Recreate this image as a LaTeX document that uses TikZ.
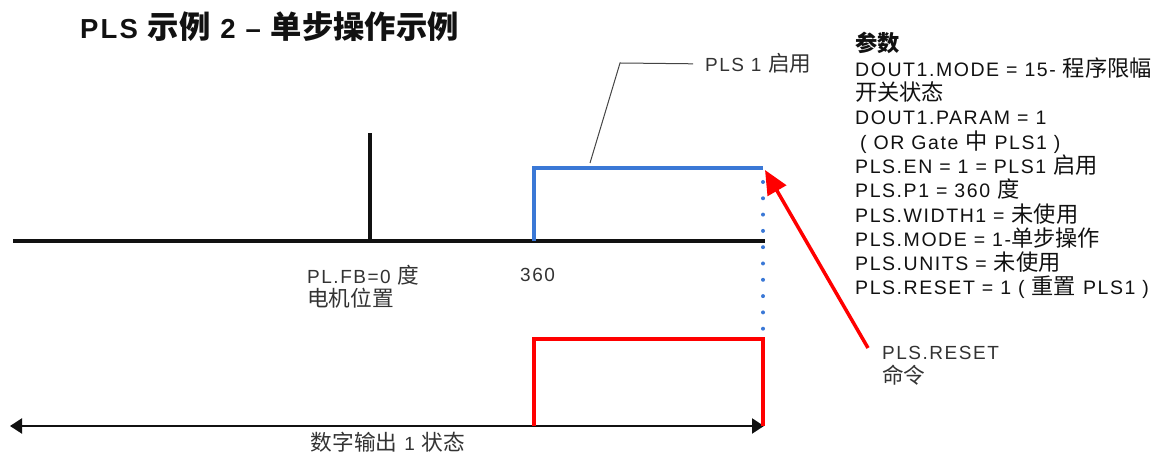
\documentclass[tikz,border=0pt]{standalone}
\usepackage{fontspec}
\setmainfont{Liberation Sans}[LetterSpace=8]
\newfontfamily\zhfont[Scale=1.14]{Noto Sans CJK SC}
\newcommand\zh[1]{{\zhfont #1}}
\usepackage{xcolor}
\usepackage{tikz}
\usetikzlibrary{arrows.meta}
\definecolor{PlsInk}{HTML}{111111}
\definecolor{PlsMuted}{HTML}{333333}
\definecolor{PlsLeader}{HTML}{444444}
\definecolor{PlsBlue}{HTML}{3A78D6}
\definecolor{PlsRed}{HTML}{FF0000}

\begin{document}
\begin{tikzpicture}[x=1pt,y=1pt,
    axisline/.style={line width=3.5pt, PlsInk},
    enline/.style={line width=3.5pt, PlsBlue},
    dotline/.style={line width=4pt, PlsBlue, line cap=round, dash pattern=on 0pt off 16.3pt},
    outpulse/.style={line width=3.5pt, PlsRed},
    statearrow/.style={line width=2.2pt, PlsInk, {Triangle[length=12pt,width=15pt]}-{Triangle[length=12pt,width=15pt]}},
    resetarrow/.style={line width=3.5pt, PlsRed, -{Triangle[length=24pt,width=21pt]}},
    leader/.style={line width=1pt, PlsLeader},
    titletext/.style={text=PlsInk, font=\fontsize{27.5pt}{32pt}\selectfont\bfseries, inner sep=0pt},
    bodytext/.style={text=PlsInk, font=\fontsize{19.5pt}{24.3pt}\selectfont, inner sep=0pt},
    notetext/.style={text=PlsMuted, font=\fontsize{19pt}{24pt}\selectfont, inner sep=0pt},
  ]
        \useasboundingbox (0,0) rectangle (1164,454);
        \node[titletext, anchor=west] (title) at (80,427) {PLS \zh{示例} 2 – \zh{单步操作示例}};
        \foreach \i/\txt in {0/{\textbf{\zh{参数}}},
                             1/{DOUT1.MODE = 15- \zh{程序限幅}},
                             2/{\zh{开关状态}},
                             3/{DOUT1.PARAM = 1},
                             4/{\hspace{5pt}( OR Gate \zh{中} PLS1 )},
                             5/{PLS.EN = 1 = PLS1 \zh{启用}},
                             6/{PLS.P1 = 360 \zh{度}},
                             7/{PLS.WIDTH1 = \zh{未使用}},
                             8/{PLS.MODE = 1-\zh{单步操作}},
                             9/{PLS.UNITS = \zh{未使用}},
                             10/{PLS.RESET = 1 ( \zh{重置} PLS1 )}} {
          \node[bodytext, anchor=base west] (par\i) at (855,{402-24.3*\i}) {\txt};
        }
        \coordinate (axL) at (13,213);
        \coordinate (axR) at (765,213);
        \coordinate (zeroBot) at (370,213);
        \coordinate (zeroTop) at (370,321);
        \draw[axisline] (axL) -- (axR);
        \draw[axisline] (zeroBot) -- (zeroTop);
        \coordinate (enL) at (534,213);
        \coordinate (enLT) at (534,286);
        \coordinate (enRT) at (763,286);
        \coordinate (outL) at (534,28);
        \coordinate (outLT) at (534,115);
        \coordinate (outRT) at (763,115);
        \coordinate (outR) at (763,28);
        \draw[enline] (enL) -- (enLT) -- (enRT);
        \draw[dotline, shorten <=14pt, shorten >=10pt] (enRT) -- (outRT);
        \coordinate (stL) at (10,28);
        \coordinate (stR) at (764,28);
        \draw[statearrow] (stL) -- (stR);
        \draw[outpulse] (outL) -- (outLT) -- (outRT) -- (outR);
        \node[notetext, anchor=base west] (fb) at (307,170) {PL.FB=0 \zh{度}};
        \node[notetext, anchor=base west] (fbpos) at (307,147) {\zh{电机位置}};
        \node[notetext, anchor=base west] (deg) at (520,172) {360};
        \node[notetext, anchor=base west] (en) at (705,382) {PLS 1 \zh{启用}};
        \node[notetext, anchor=base west] (rst) at (882,94) {PLS.RESET};
        \node[notetext, anchor=base west] (rstcmd) at (882,70) {\zh{命令}};
        \node[notetext, anchor=base] (state) at (388,3) {\zh{数字输出} 1 \zh{状态}};
        \coordinate (enKnee) at (620,391);
        \coordinate (enFoot) at (590,291);
        \draw[leader] ([xshift=-12pt]en.west) -- (enKnee) -- (enFoot);
        \coordinate (rstTail) at (868,106);
        \coordinate (rstTip) at (765,284);
        \draw[resetarrow] (rstTail) -- (rstTip);
\end{tikzpicture}
\end{document}
